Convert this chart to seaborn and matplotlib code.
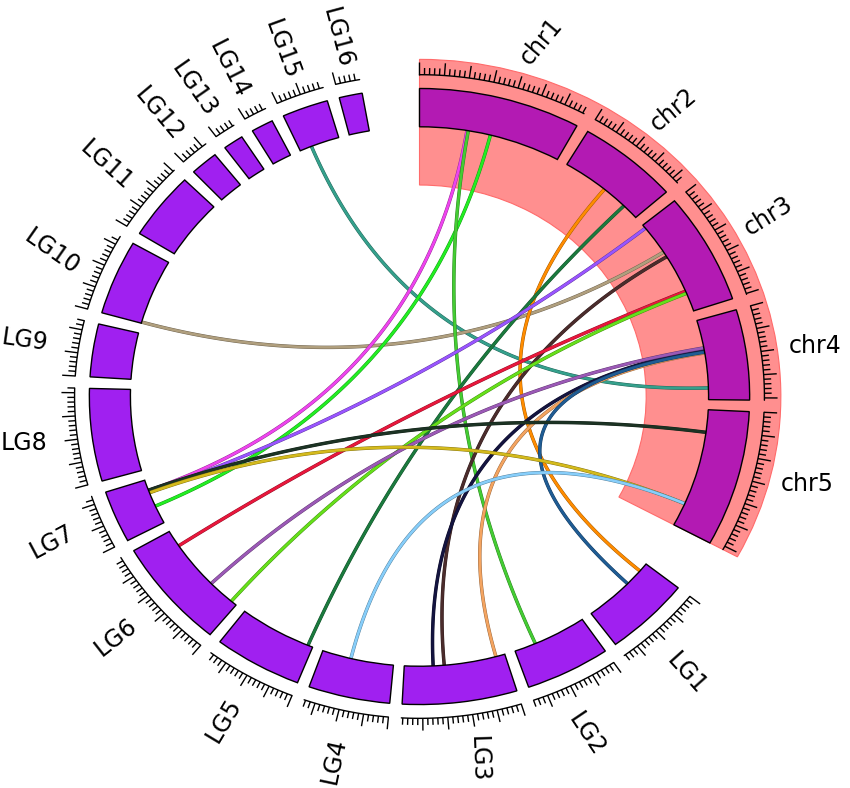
import numpy as np
import matplotlib
matplotlib.use('Agg')
import matplotlib.pyplot as plt
import seaborn as sns
from matplotlib.patches import Wedge
from matplotlib.collections import LineCollection
import matplotlib.patheffects as pe
import matplotlib.colors as mcolors

sns.set_theme(style='white')
plt.rcParams['font.family'] = ['DejaVu Sans']

# ---------------- data ----------------
chr_names = ['chr1', 'chr2', 'chr3', 'chr4', 'chr5']
chr_lengths = [34.3, 21.4, 25.2, 20.5, 30.8]
lg_names = ['LG1', 'LG2', 'LG3', 'LG4', 'LG5', 'LG6', 'LG7', 'LG8',
            'LG9', 'LG10', 'LG11', 'LG12', 'LG13', 'LG14', 'LG15', 'LG16']
lg_lengths = [18.3, 18.0, 24.3, 17.3, 18.7, 24.8, 11.8, 21.0,
              12.0, 16.9, 15.3, 5.9, 4.3, 4.7, 9.8, 4.9]

link_a = ['LG15', 'LG10', 'chr1', 'chr1', 'chr1', 'chr2', 'chr2', 'chr3', 'chr3',
          'chr4', 'chr3', 'chr3', 'chr4', 'chr4', 'chr4', 'chr5', 'chr5', 'chr5']
link_a_pos = [2.9, 0.3, 11.4, 17.1, 11.7, 11.0, 17.3, 1.0, 9.9,
              7.7, 19.8, 20.4, 7.2, 8.5, 8.3, 5.8, 24.8, 24.8]
link_b = ['chr4', 'chr3', 'LG7', 'LG7', 'LG2', 'LG1', 'LG5', 'LG7', 'LG3',
          'LG3', 'LG6', 'LG6', 'LG6', 'LG3', 'LG1', 'LG7', 'LG7', 'LG4']
link_b_pos = [17.5, 8.5, 9.0, 4.7, 12.8, 2.3, 1.2, 8.5, 14.75,
              17.4, 20.5, 1.5, 8.1, 2.2, 6.7, 9.1, 8.4, 10.3]
link_colors = ['#35A08C', '#B09F7E', '#EE44EE', '#22EE22', '#44CC33', '#FF8C00',
               '#1B7A3E', '#9955FF', '#4B2C2C', '#141440', '#E8173C', '#66E01A',
               '#9B59B6', '#F4A460', '#1F5C94', '#1C3324', '#D4BA1C', '#87CEFA']

# ---------------- style ----------------
label_rot = {'chr1': 50, 'chr2': 40, 'chr3': 32, 'chr4': 0, 'chr5': 0,
             'LG1': -48, 'LG2': -56, 'LG3': -88, 'LG4': 78, 'LG5': 59, 'LG6': 38,
             'LG7': 28, 'LG8': 0, 'LG9': -8, 'LG10': -35, 'LG11': -42, 'LG12': -50,
             'LG13': -55, 'LG14': -63, 'LG15': -70, 'LG16': -75}
label_shift = {'chr1': -3.5, 'chr5': 2.0, 'LG3': 1.5, 'LG2': -2.0, 'LG1': -2.0}
label_r = {'LG3': 1.195, 'LG16': 1.195, 'LG15': 1.205}

small_gap, big_gap = 2.15, 10.0
R_OUT, WIDTH = 1.005, 0.125
R_IN = R_OUT - WIDTH
R_BASE, R_MINOR, R_MAJOR = 1.05, 1.072, 1.09
R_LABEL = 1.215

names = chr_names + lg_names
lengths = chr_lengths + lg_lengths
scale = (360 - small_gap * (len(names) - 2) - 2 * big_gap) / sum(lengths)
start, end = {}, {}
a = 90.0
for n, L in zip(names, lengths):
    start[n] = a
    a -= L * scale
    end[n] = a
    a -= big_gap if n in ('chr5', 'LG16') else small_gap
blen = dict(zip(names, lengths))


def ang(n, p):
    return start[n] - p * scale


def pol(r, deg):
    t = np.deg2rad(deg)
    return r * np.cos(t), r * np.sin(t)


fig = plt.figure(figsize=(8.5, 7.88), dpi=100)
ax = fig.add_axes([0, 0, 1, 1])

# highlight region behind chr
pink = Wedge((0, 0), 1.10, end['chr5'], start['chr1'], width=0.41,
             facecolor='#FF8F8F', edgecolor='#FF6B6B', lw=0.8, zorder=1)
ax.add_patch(pink)

# links
t = np.linspace(0, 1, 120)
for na, pa, nb, pb, c in zip(link_a, link_a_pos, link_b, link_b_pos, link_colors):
    x0, y0 = pol(R_IN, ang(na, pa))
    x2, y2 = pol(R_IN, ang(nb, pb))
    xs = (1 - t) ** 2 * x0 + t ** 2 * x2
    ys = (1 - t) ** 2 * y0 + t ** 2 * y2
    n_before = len(ax.lines)
    sns.lineplot(x=xs, y=ys, sort=False, estimator=None, color=c, lw=1.9, ax=ax)
    dark = tuple(np.array(mcolors.to_rgb(c)) * 0.6)
    for ln in ax.lines[n_before:]:
        ln.set_zorder(2)
        ln.set_path_effects([pe.Stroke(linewidth=2.5, foreground=dark), pe.Normal()])

# blocks
for n in names:
    fc = '#B31AB3' if n in chr_names else '#A020F0'
    ax.add_patch(Wedge((0, 0), R_OUT, end[n], start[n], width=WIDTH,
                       facecolor=fc, edgecolor='black', lw=1.0, zorder=3))

# ticks
segs = []
for n in names:
    th = np.linspace(start[n], end[n], 80)
    bx, by = pol(R_BASE, th)
    ax.plot(bx, by, color='black', lw=1.0, zorder=4)
    for k in range(int(np.floor(blen[n] + 1e-6)) + 1):
        d = ang(n, k)
        r2 = R_MAJOR if k % 5 == 0 else R_MINOR
        segs.append([pol(R_BASE, d), pol(r2, d)])
ax.add_collection(LineCollection(segs, colors='black', linewidths=1.0, zorder=4))

# labels
for n in names:
    mid = (start[n] + end[n]) / 2 + label_shift.get(n, 0.0)
    x, y = pol(label_r.get(n, R_LABEL), mid)
    ax.text(x, y, n, fontsize=17, rotation=label_rot[n], ha='center', va='center',
            rotation_mode='anchor', color='black', zorder=5)

ax.set_xlim(-1.277, 1.3105)
ax.set_ylim(-1.2773, 1.2937)
ax.axis('off')
fig.savefig('out.png', dpi=100, facecolor='white')
